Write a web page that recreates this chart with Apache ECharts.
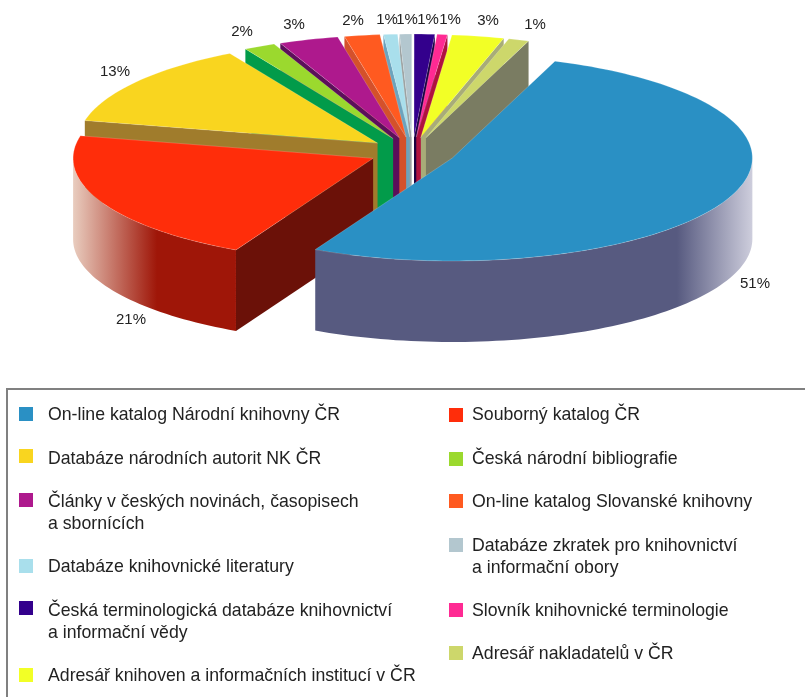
<!DOCTYPE html>
<html>
<head>
<meta charset="utf-8">
<title>Pie</title>
<script src="https://cdn.jsdelivr.net/npm/echarts@6/dist/echarts.min.js"></script>
<style>
  html, body { margin: 0; padding: 0; background: #fff; }
  #chart { width: 805px; height: 697px; }
</style>
</head>
<body>
<div id="chart"></div>
<script>
const sliceNames = [
  'On-line katalog Národní knihovny ČR',
  'Souborný katalog ČR',
  'Databáze národních autorit NK ČR',
  'Česká národní bibliografie',
  'Články v českých novinách, časopisech\na sbornících',
  'On-line katalog Slovanské knihovny',
  'Databáze knihovnické literatury',
  'Databáze zkratek pro knihovnictví\na informační obory',
  'Česká terminologická databáze knihovnictví\na informační vědy',
  'Slovník knihovnické terminologie',
  'Adresář knihoven a informačních institucí v ČR',
  'Adresář nakladatelů v ČR'
];
// slice sizes (the printed labels are rounded)
const sliceShares = [52, 20.95, 13.3, 1.7, 3.2, 1.9, 0.75, 0.65, 1.1, 0.55, 2.8, 1.1];
const percentLabels = ['51%', '21%', '13%', '2%', '3%', '2%', '1%', '1%', '1%', '1%', '3%', '1%'];

const topColors = ['#2A90C4', '#FF2D0A', '#F9D51F', '#9BD92E', '#AE198D', '#FF5A20',
  '#A9DFEC', '#B3C7CF', '#33008C', '#FF2A93', '#F2FF26', '#CDD76B'];
const faceColors = ['#575A80', '#6B1108', '#A07C2C', '#029B4A', '#5C0F5A', '#D4512B',
  '#6CA3BD', '#9AA0A0', '#1A0040', '#B0123F', '#A8AC78', '#7A7C62'];

// back to front
const paintOrder = [7, 8, 6, 9, 5, 10, 4, 11, 3, 2, 1, 0];

// layout
const cx = 412.5, cy = 152, rx = 300, ry = 103, depth = 81, explode = 0.145, startAngle = -70;
const labelAnchors = [[755, 284], [131, 320], [115, 72], [242, 32], [294, 25], [353, 21],
  [387, 20], [407, 20], [428, 20], [450, 20], [488, 21], [535, 25]];
const wallFades = {
  0: { from: 677, to: 752, solid: '#575A80', light: '#CDCDDC' },
  1: { from: 157, to: 73, solid: '#9F1608', light: '#E9CDBF' }
};
const legendLeft = { swatchX: 19, textX: 48, rows: [0, 2, 4, 6, 8, 10], y: [414, 456, 500, 566, 608, 675], textY: [415, 459, 502, 567, 611, 676] };
const legendRight = { swatchX: 449, textX: 472, rows: [1, 3, 5, 7, 9, 11], y: [415, 459, 501, 545, 610, 653], textY: [415, 459, 502, 546, 611, 654] };

const total = sliceShares.reduce((a, b) => a + b, 0);
const rad = d => d * Math.PI / 180;

function sliceAngles(i) {
  let start = startAngle;
  for (let k = 0; k < i; k++) start += sliceShares[k] / total * 360;
  return [start, start + sliceShares[i] / total * 360];
}

function rimArc(ax, ay, a, b, dy) {
  const pts = [];
  const steps = Math.max(2, Math.ceil((b - a) / 1.5));
  for (let s = 0; s <= steps; s++) {
    const t = rad(a + (b - a) * s / steps);
    pts.push([ax + rx * Math.cos(t), ay + ry * Math.sin(t) + dy]);
  }
  return pts;
}

function cutFace(ax, ay, angle, fill, z2) {
  const t = rad(angle);
  const ex = ax + rx * Math.cos(t), ey = ay + ry * Math.sin(t);
  return {
    type: 'polygon', z2: z2,
    shape: { points: [[ax, ay], [ex, ey], [ex, ey + depth], [ax, ay + depth]] },
    style: { fill: fill }
  };
}

function renderSlice(params, api) {
  const i = api.value(0);
  const [a, b] = sliceAngles(i);
  const mid = rad((a + b) / 2);
  const ax = cx + explode * rx * Math.cos(mid);
  const ay = cy + explode * ry * Math.sin(mid);
  const base = params.dataIndex * 5;
  const children = [];

  if (Math.cos(rad(a)) < 0) children.push(cutFace(ax, ay, a, faceColors[i], base + 1));
  if (Math.cos(rad(b)) > 0) children.push(cutFace(ax, ay, b, faceColors[i], base + 1));

  // outer wall, only the front half of the rim shows
  const wa = Math.max(a, 0), wb = Math.min(b, 180);
  if (wb > wa) {
    const top = rimArc(ax, ay, wa, wb, 0);
    const bottom = rimArc(ax, ay, wa, wb, depth).reverse();
    const fade = wallFades[i];
    children.push({
      type: 'polygon', z2: base + 2,
      shape: { points: top.concat(bottom) },
      style: {
        fill: fade ? {
          type: 'linear', global: true, x: fade.from, y: 0, x2: fade.to, y2: 0,
          colorStops: [{ offset: 0, color: fade.solid }, { offset: 1, color: fade.light }]
        } : faceColors[i]
      }
    });
  }

  children.push({
    type: 'polygon', z2: base + 3,
    shape: { points: [[ax, ay]].concat(rimArc(ax, ay, a, b, 0)) },
    style: { fill: topColors[i], stroke: 'rgba(255,255,255,0.3)', lineWidth: 0.6 }
  });

  children.push({
    type: 'text', z2: 500,
    style: {
      x: labelAnchors[i][0], y: labelAnchors[i][1], text: percentLabels[i],
      fill: '#222', font: '15px "Liberation Sans", Arial, sans-serif',
      align: 'center', verticalAlign: 'middle'
    }
  });
  return { type: 'group', children: children };
}

function legendColumn(col) {
  const out = [];
  col.rows.forEach((i, r) => {
    out.push({
      type: 'rect',
      shape: { x: col.swatchX, y: col.y[r] - 7, width: 14, height: 14 },
      style: { fill: topColors[i] }
    });
    out.push({
      type: 'text',
      style: {
        x: col.textX, y: col.textY[r] - 11, text: sliceNames[i], fill: '#222',
        font: '17.7px "Liberation Sans", Arial, sans-serif', lineHeight: 22, verticalAlign: 'top'
      }
    });
  });
  return out;
}

const frame = [
  { type: 'line', shape: { x1: 7, y1: 389, x2: 805, y2: 389 }, style: { stroke: '#808080', lineWidth: 2 } },
  { type: 'line', shape: { x1: 7, y1: 388, x2: 7, y2: 697 }, style: { stroke: '#808080', lineWidth: 2 } }
];

const chart = echarts.init(document.getElementById('chart'));
chart.setOption({
  backgroundColor: '#fff',
  animation: false,
  graphic: { elements: frame.concat(legendColumn(legendLeft), legendColumn(legendRight)) },
  series: [{
    type: 'custom',
    coordinateSystem: 'none',
    silent: true,
    clip: false,
    renderItem: renderSlice,
    data: paintOrder.map(i => [i])
  }]
});
</script>
</body>
</html>
